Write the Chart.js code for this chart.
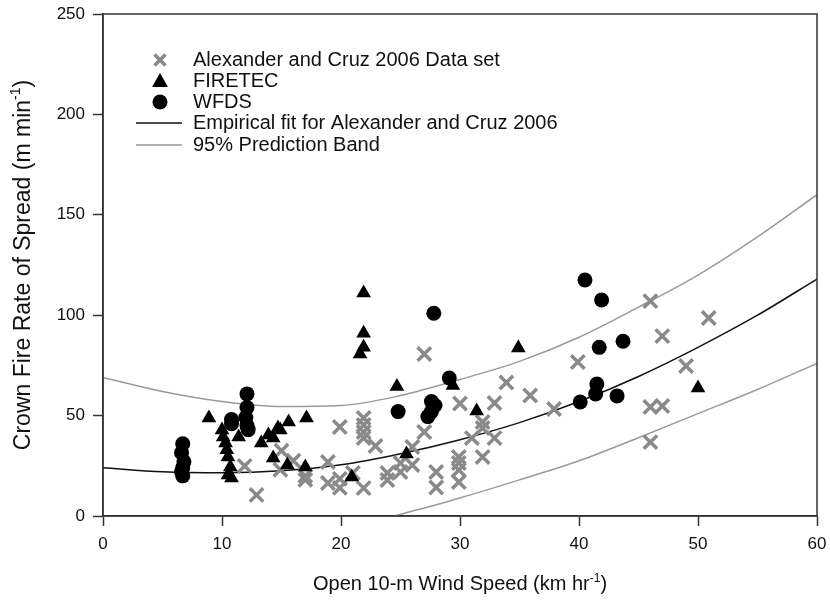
<!DOCTYPE html>
<html>
<head>
<meta charset="utf-8">
<script src="https://cdn.jsdelivr.net/npm/chart.js@4"></script>
<style>
  html, body { margin: 0; padding: 0; background: #fff; }
  #wrap { width: 830px; height: 605px; }
</style>
</head>
<body>
<div id="wrap"><canvas id="chart" width="830" height="605"></canvas></div>
<script>
// Alexander and Cruz 2006 data set (wind speed, spread rate)
const acX = [11.9, 12.9, 15.0, 14.9, 16.0, 17.0, 17.0, 18.9, 18.9, 19.9, 19.9, 19.9, 21.0, 21.9, 21.9, 21.9, 21.9, 21.9,
  22.9, 23.9, 23.9, 25.0, 25.0, 26.0, 26.0, 27.0, 27.0, 28.0, 28.0, 29.9, 29.9, 29.9, 29.9, 30.0, 31.0, 31.9, 31.9, 31.9,
  32.9, 32.9, 33.9, 35.9, 37.9, 39.9, 46.0, 47.0, 50.9, 49.0, 46.0, 47.0, 46.0];
const acY = [24.9, 10.5, 32.5, 23.0, 27.5, 20.0, 18.0, 26.9, 16.4, 44.3, 18.5, 14.0, 21.4, 48.8, 45.3, 41.8, 38.8, 13.9,
  34.9, 17.9, 21.4, 21.9, 26.4, 25.4, 34.4, 41.8, 80.7, 21.9, 14.2, 29.4, 26.4, 22.9, 16.9, 56.0, 38.8, 46.8, 43.8, 29.4,
  38.8, 56.3, 66.5, 60.0, 53.3, 76.7, 107.0, 89.6, 98.6, 74.7, 54.3, 54.8, 36.8];

// FIRETEC runs
const firetecX = [8.9, 10.0, 10.1, 10.3, 10.4, 10.5, 10.7, 10.5, 10.8, 11.4, 13.3, 13.9, 14.3, 14.7, 14.9, 15.6, 17.1,
  14.3, 15.5, 17.0, 21.9, 21.9, 21.9, 21.6, 24.7, 29.4, 34.9, 31.4, 20.9, 25.5, 50.0];
const firetecY = [48.8, 42.8, 39.3, 36.3, 33.0, 29.4, 24.4, 20.4, 18.9, 39.3, 36.3, 40.3, 38.8, 43.8, 42.8, 46.8, 48.8,
  28.9, 25.4, 24.4, 111.0, 91.0, 84.0, 80.7, 64.5, 65.0, 83.7, 52.3, 19.4, 30.9, 63.7];

// WFDS runs
const wfdsX = [6.7, 6.6, 6.8, 6.7, 6.6, 6.7, 10.8, 10.8, 12.1, 12.1, 12.0, 12.1, 12.2, 24.8, 27.8, 29.1, 27.6, 27.9,
  27.3, 27.6, 40.5, 41.9, 41.7, 43.7, 41.5, 41.4, 40.1, 43.2];
const wfdsY = [36.0, 31.5, 27.0, 24.0, 22.0, 20.0, 48.0, 46.0, 60.8, 54.0, 49.0, 45.0, 43.0, 52.0, 101.0, 68.7, 57.0, 55.0,
  49.5, 52.0, 117.5, 107.6, 84.0, 87.0, 65.7, 60.8, 56.8, 59.8];

// empirical fit and 95% prediction band
const fitX = [0, 5, 10, 15, 20, 25, 30, 35, 40, 45, 50, 55, 60];
const fitY = [24, 22, 21.5, 22.5, 25.5, 31, 38, 46.5, 57, 69.5, 84, 100, 118];
const upperX = [0, 5, 10, 15, 20, 25, 30, 35, 40, 45, 50, 55, 60];
const upperY = [69, 62, 57, 54.5, 55, 60, 68, 77, 89, 104, 120, 139, 160];
const lowerX = [24.5, 30, 35, 40, 45, 50, 55, 60];
const lowerY = [0, 9, 18, 27.5, 39, 51, 63, 76];

const xTicks = [0, 10, 20, 30, 40, 50, 60];
const yTicks = [0, 50, 100, 150, 200, 250];

const FONT = '"Liberation Sans", Arial, sans-serif';
const AXIS = '#333';

function pts(xs, ys) {
  return xs.map((x, i) => ({ x: x, y: ys[i] }));
}

// draws text with a "-1" superscript tail
function drawSup(ctx, base, sup, tail, x, y, size) {
  ctx.font = size + 'px ' + FONT;
  const supSize = Math.round(size * 0.62);
  const wBase = ctx.measureText(base).width;
  const wTail = ctx.measureText(tail).width;
  ctx.font = supSize + 'px ' + FONT;
  const wSup = ctx.measureText(sup).width;
  let left = x - (wBase + wSup + wTail) / 2;
  ctx.textAlign = 'left';
  ctx.textBaseline = 'alphabetic';
  ctx.font = size + 'px ' + FONT;
  ctx.fillText(base, left, y);
  ctx.font = supSize + 'px ' + FONT;
  ctx.fillText(sup, left + wBase, y - size * 0.42);
  ctx.font = size + 'px ' + FONT;
  ctx.fillText(tail, left + wBase + wSup, y);
}

const decor = {
  id: 'decor',
  afterDraw(chart) {
    const ctx = chart.ctx;
    const a = chart.chartArea;
    ctx.save();
    // frame
    ctx.strokeStyle = AXIS;
    ctx.lineWidth = 1.5;
    ctx.strokeRect(a.left, a.top, a.right - a.left, a.bottom - a.top);

    // axis titles
    ctx.fillStyle = '#111';
    drawSup(ctx, 'Open 10-m Wind Speed (km hr', '-1', ')', (a.left + a.right) / 2, 590, 20);
    ctx.save();
    ctx.translate(30, (a.top + a.bottom) / 2);
    ctx.rotate(-Math.PI / 2);
    drawSup(ctx, 'Crown Fire Rate of Spread (m min', '-1', ')', 0, 0, 23);
    ctx.restore();

    // legend
    const mx = 160, tx = 193;
    const rows = [60, 81, 102, 123, 145];
    const labels = ['Alexander and Cruz 2006 Data set', 'FIRETEC', 'WFDS',
      'Empirical fit for Alexander and Cruz 2006', '95% Prediction Band'];
    ctx.font = '20px ' + FONT;
    ctx.textAlign = 'left';
    ctx.textBaseline = 'middle';
    labels.forEach((t, i) => ctx.fillText(t, tx, rows[i]));

    ctx.strokeStyle = '#888';
    ctx.lineWidth = 3.5;
    const s = 5.5;
    ctx.beginPath();
    ctx.moveTo(mx - s, rows[0] - s); ctx.lineTo(mx + s, rows[0] + s);
    ctx.moveTo(mx - s, rows[0] + s); ctx.lineTo(mx + s, rows[0] - s);
    ctx.stroke();

    ctx.fillStyle = '#000';
    ctx.beginPath();
    ctx.moveTo(mx, rows[1] - 8); ctx.lineTo(mx + 8, rows[1] + 6); ctx.lineTo(mx - 8, rows[1] + 6);
    ctx.closePath();
    ctx.fill();
    ctx.beginPath();
    ctx.arc(mx, rows[2], 7.5, 0, Math.PI * 2);
    ctx.fill();

    ctx.lineWidth = 1.5;
    ctx.strokeStyle = '#111';
    ctx.beginPath(); ctx.moveTo(136, rows[3]); ctx.lineTo(182, rows[3]); ctx.stroke();
    ctx.strokeStyle = '#999';
    ctx.beginPath(); ctx.moveTo(136, rows[4]); ctx.lineTo(182, rows[4]); ctx.stroke();
    ctx.restore();
  }
};

const lineStyle = { showLine: true, pointRadius: 0, borderWidth: 1.5, fill: false, cubicInterpolationMode: 'monotone' };

new Chart(document.getElementById('chart'), {
  type: 'scatter',
  data: {
    datasets: [
      { label: 'WFDS', data: pts(wfdsX, wfdsY), pointStyle: 'circle', pointRadius: 7.5,
        backgroundColor: '#000', borderColor: '#000', borderWidth: 0, order: 1 },
      { label: 'FIRETEC', data: pts(firetecX, firetecY), pointStyle: 'triangle', pointRadius: 8.5,
        backgroundColor: '#000', borderColor: '#000', borderWidth: 0, order: 2 },
      { label: 'Alexander and Cruz 2006 Data set', data: pts(acX, acY), pointStyle: 'crossRot', pointRadius: 9.5,
        borderColor: '#8a8a8a', backgroundColor: '#8a8a8a', borderWidth: 3.5, order: 3 },
      Object.assign({ label: 'Empirical fit for Alexander and Cruz 2006', data: pts(fitX, fitY),
        borderColor: '#111', order: 4 }, lineStyle),
      Object.assign({ label: '95% Prediction Band', data: pts(upperX, upperY), borderColor: '#9a9a9a', order: 5 }, lineStyle),
      Object.assign({ label: '95% Prediction Band lower', data: pts(lowerX, lowerY), borderColor: '#9a9a9a', order: 5 }, lineStyle)
    ]
  },
  options: {
    responsive: false,
    animation: false,
    layout: { padding: { top: 14, right: 13, left: 0, bottom: 0 } },
    plugins: { legend: { display: false }, tooltip: { enabled: false } },
    scales: {
      x: {
        type: 'linear', min: 0, max: 60,
        afterFit(scale) {
          scale.height = 89;
          scale.paddingLeft = 0;
          scale.paddingRight = 0;
        },
        afterBuildTicks(scale) { scale.ticks = xTicks.map(v => ({ value: v })); },
        grid: { drawOnChartArea: false, drawTicks: true, tickLength: 10, tickColor: AXIS, tickWidth: 1.5 },
        border: { display: true, color: AXIS, width: 1.5 },
        ticks: { color: '#111', font: { family: FONT, size: 17 }, padding: 8, maxRotation: 0 }
      },
      y: {
        type: 'linear', min: 0, max: 250,
        afterFit(scale) {
          scale.width = 103;
          scale.paddingTop = 0;
          scale.paddingBottom = 0;
        },
        afterBuildTicks(scale) { scale.ticks = yTicks.map(v => ({ value: v })); },
        grid: { drawOnChartArea: false, drawTicks: true, tickLength: 10, tickColor: AXIS, tickWidth: 1.5 },
        border: { display: true, color: AXIS, width: 1.5 },
        ticks: { color: '#111', font: { family: FONT, size: 17 }, padding: 8 }
      }
    }
  },
  plugins: [decor]
});
</script>
</body>
</html>
